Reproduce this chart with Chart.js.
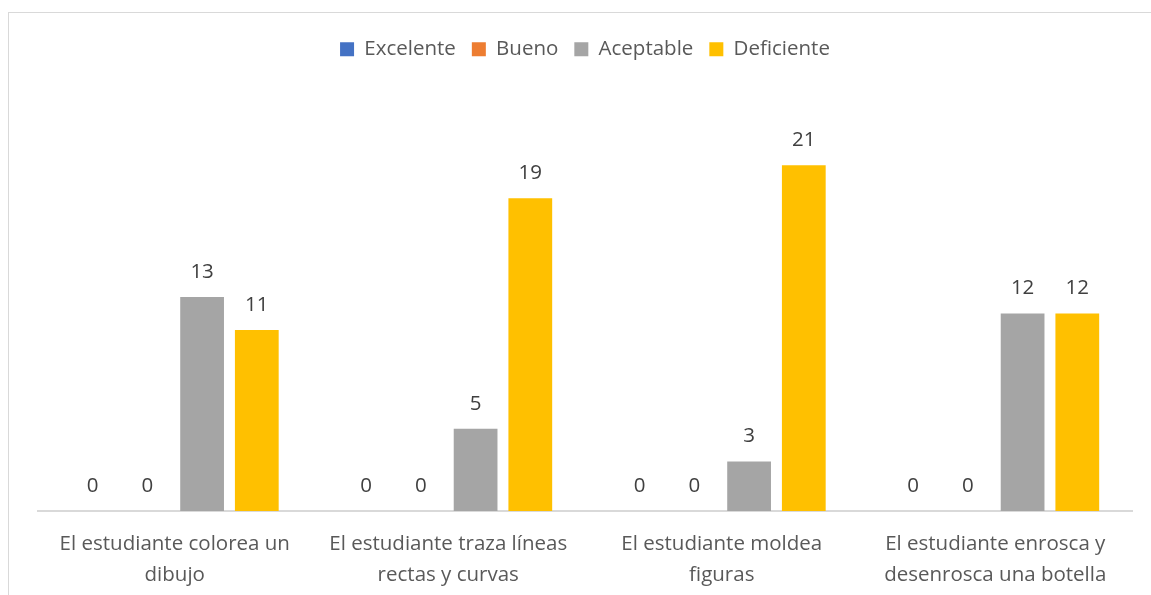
<!DOCTYPE html>
<html>
<head>
<meta charset="utf-8">
<script src="https://cdn.jsdelivr.net/npm/chart.js@4.4.1/dist/chart.umd.min.js"></script>
<style>
  html, body { margin: 0; padding: 0; background: #fff; overflow: hidden; }
  #frame { position: absolute; left: 8px; top: 12px; width: 1200px; height: 700px; border: 1.5px solid #d9d9d9; box-sizing: border-box; }
  #wrap { position: absolute; left: 0; top: 0; width: 1151px; height: 595px; }
</style>
</head>
<body>
<div id="frame"></div>
<div id="wrap"><canvas id="chart"></canvas></div>
<script>
const CATEGORIES = [
  ['El estudiante colorea un', 'dibujo'],
  ['El estudiante traza líneas', 'rectas y curvas'],
  ['El estudiante moldea', 'figuras'],
  ['El estudiante enrosca y', 'desenrosca una botella']
];
const EXCELENTE = [0, 0, 0, 0];
const BUENO = [0, 0, 0, 0];
const ACEPTABLE = [13, 5, 3, 12];
const DEFICIENTE = [11, 19, 21, 12];

const FONT = '"Open Sans", sans-serif';
const FONT_SIZE = 20.5;

// draws the value over each bar
const valueLabels = {
  id: 'valueLabels',
  afterDatasetsDraw(chart) {
    const ctx = chart.ctx;
    ctx.save();
    ctx.font = FONT_SIZE + 'px ' + FONT;
    ctx.fillStyle = '#404040';
    ctx.textAlign = 'center';
    ctx.textBaseline = 'middle';
    chart.data.datasets.forEach((ds, i) => {
      chart.getDatasetMeta(i).data.forEach((bar, j) => {
        ctx.fillText(ds.data[j], bar.x, bar.y - 25);
      });
    });
    ctx.restore();
  }
};

// extra space under the legend
const legendGap = {
  id: 'legendGap',
  beforeInit(chart) {
    const fit = chart.legend.fit;
    chart.legend.fit = function () {
      fit.bind(chart.legend)();
      this.height += 30;
    };
  }
};

const main = () => {
  const canvas = document.getElementById('chart');

  const data = {
    labels: CATEGORIES,
    datasets: [
      { label: 'Excelente', data: EXCELENTE, backgroundColor: '#4472C4' },
      { label: 'Bueno', data: BUENO, backgroundColor: '#ED7D31' },
      { label: 'Aceptable', data: ACEPTABLE, backgroundColor: '#A5A5A5' },
      { label: 'Deficiente', data: DEFICIENTE, backgroundColor: '#FFC000' }
    ]
  };

  const options = {
    responsive: true,
    maintainAspectRatio: false,
    animation: false,
    layout: { padding: { top: 23, left: 38, right: 19, bottom: 0 } },
    datasets: { bar: { categoryPercentage: 0.8, barPercentage: 0.8 } },
    plugins: {
      tooltip: { enabled: false },
      legend: {
        position: 'top',
        labels: {
          font: { family: FONT, size: FONT_SIZE },
          color: '#595959',
          boxWidth: 14,
          boxHeight: 14,
          padding: 16
        }
      }
    },
    scales: {
      x: {
        grid: { display: false },
        border: { display: true, color: '#d9d9d9', width: 2 },
        ticks: {
          color: '#595959',
          font: { family: FONT, size: FONT_SIZE, lineHeight: 1.5 },
          padding: 10,
          maxRotation: 0,
          autoSkip: false
        },
        afterFit(scale) { scale.height = 84; }
      },
      y: {
        display: false,
        min: 0,
        max: 25
      }
    }
  };

  new Chart(canvas, { type: 'bar', data, options, plugins: [valueLabels, legendGap] });
};

main();
</script>
</body>
</html>
